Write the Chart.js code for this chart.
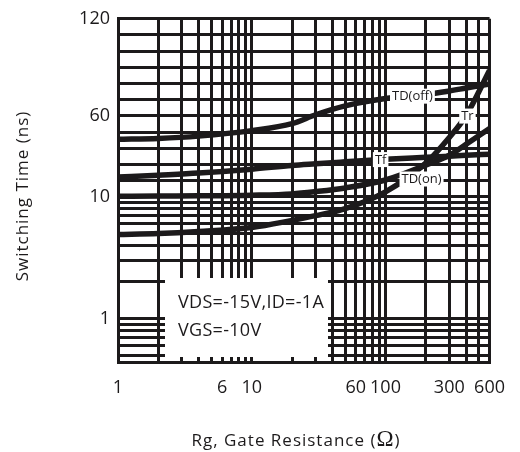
<!DOCTYPE html>
<html>
<head>
<meta charset="utf-8">
<script src="https://cdn.jsdelivr.net/npm/chart.js@4.4.1/dist/chart.umd.min.js"></script>
<style>
  html, body { margin: 0; padding: 0; background: #fff; }
  #wrap { width: 520px; height: 452px; }
</style>
</head>
<body>
<div id="wrap"><canvas id="chart" width="520" height="452"></canvas></div>
<script>
// Gate resistance (ohm) sample points
const rg = [1, 2, 4, 10, 20, 30, 50, 100, 200, 300, 400, 600];

// Switching times (ns)
const tdOff = [45.5, 46.1, 47.5, 50.9, 55.2, 60.7, 66.2, 70.7, 73.2, 75.4, 77.2, 79.7];
const tf    = [22.2, 23.4, 24.7, 27.1, 29.4, 30.4, 31.6, 33.2, 34.4, 35.1, 35.7, 36.3];
const tdOn  = [10.3, 10.5, 10.6, 11.0, 11.8, 13.2, 15.5, 20.4, 29.6, 35.7, 42.4, 52.2];
const tr    = [4.9, 5.0, 5.2, 5.6, 6.4, 7.0, 8.0, 13.1, 30.8, 46.7, 60.1, 88.2];

// curve names and where they sit (Rg, ns)
const curveNames = ['TD(off)', 'Tf', 'Tr', 'TD(on)'];
const nameRg  = [159, 92, 410, 186];
const nameVal = [72.2, 33.0, 59.9, 21.0];

// grid and tick labels
const xGrid = [1, 2, 3, 4, 5, 6, 7, 8, 9, 10, 20, 30, 40, 50, 60, 70, 80, 90,
               100, 200, 300, 400, 500, 600];
const xLabels = [1, 6, 10, 60, 100, 300, 600];
const yGrid = [0.5, 0.6, 0.7, 0.8, 0.9, 1, 2, 3, 4, 5, 6, 7, 8, 9, 10,
               20, 30, 40, 50, 60, 70, 80, 90, 100, 110, 120];
const yLabels = [1, 10, 60, 120];

const conditions = ['VDS=-15V,ID=-1A', 'VGS=-10V'];

const INK = '#1c1a1b';
const FONT = "'Open Sans', 'Liberation Sans', sans-serif";

// log below the split value, linear above it
class SplitLogScale extends Chart.LogarithmicScale {
  static id = 'splitlog';

  decimalFor(v) {
    const sv = this.options.splitValue;
    const at = this.options.splitAt;
    if (v <= sv) return at * Math.log(v / this.min) / Math.log(sv / this.min);
    return at + (1 - at) * (v - sv) / (this.max - sv);
  }

  getPixelForValue(v) {
    if (v === undefined || v === 0) v = this.min;
    if (v === null || isNaN(v)) return NaN;
    return this.getPixelForDecimal(this.decimalFor(v));
  }

  getValueForPixel(px) {
    const d = this.getDecimalForPixel(px);
    const sv = this.options.splitValue;
    const at = this.options.splitAt;
    if (d <= at) return this.min * Math.pow(sv / this.min, d / at);
    return sv + (d - at) / (1 - at) * (this.max - sv);
  }
}
Chart.register(SplitLogScale);

function series(vals) {
  return rg.map((r, i) => ({ x: r, y: vals[i] }));
}

function curve(label, vals) {
  return {
    label: label,
    data: series(vals),
    borderColor: INK,
    borderWidth: 5.5,
    pointRadius: 0,
    fill: false,
    cubicInterpolationMode: 'monotone'
  };
}

const notes = {
  id: 'notes',
  beforeDatasetsDraw(chart) {
    const { ctx, chartArea: a } = chart;
    ctx.save();
    // white panel with the test conditions
    ctx.fillStyle = '#fff';
    ctx.fillRect(a.left + 47, 278, 163, a.bottom - 5 - 278);
    ctx.fillStyle = INK;
    ctx.font = '18px ' + FONT;
    ctx.letterSpacing = '0.3px';
    ctx.textAlign = 'left';
    ctx.textBaseline = 'alphabetic';
    ctx.fillText(conditions[0], a.left + 60, 308);
    ctx.fillText(conditions[1], a.left + 60, 336);
    ctx.restore();
  },
  afterDatasetsDraw(chart) {
    const { ctx, scales: { x, y } } = chart;
    ctx.save();
    ctx.font = '13px ' + FONT;
    ctx.textAlign = 'center';
    ctx.textBaseline = 'middle';
    curveNames.forEach((name, i) => {
      const px = x.getPixelForValue(nameRg[i]);
      const py = y.getPixelForValue(nameVal[i]);
      const w = ctx.measureText(name).width + 4;
      ctx.fillStyle = '#fff';
      ctx.fillRect(px - w / 2, py - 7.5, w, 15);
      ctx.fillStyle = INK;
      ctx.fillText(name, px, py + 0.5);
    });
    ctx.restore();
  },
  afterDraw(chart) {
    const { ctx } = chart;
    ctx.save();
    ctx.fillStyle = INK;
    ctx.textBaseline = 'alphabetic';
    ctx.letterSpacing = '1px';

    // x title, with a larger serif omega
    const f1 = '17px ' + FONT;
    const f2 = "23px 'Liberation Serif', 'DejaVu Serif', serif";
    const p1 = 'Rg, Gate Resistance (';
    const p2 = '\u03A9';
    const p3 = ')';
    ctx.font = f1;
    const w1 = ctx.measureText(p1).width;
    const w3 = ctx.measureText(p3).width;
    ctx.font = f2;
    const w2 = ctx.measureText(p2).width;
    let tx = 296 - (w1 + w2 + w3) / 2;
    ctx.textAlign = 'left';
    ctx.font = f1;
    ctx.fillText(p1, tx, 446);
    ctx.font = f2;
    ctx.fillText(p2, tx + w1, 446);
    ctx.font = f1;
    ctx.fillText(p3, tx + w1 + w2, 446);

    // y title
    ctx.translate(23, 196);
    ctx.rotate(-Math.PI / 2);
    ctx.textAlign = 'center';
    ctx.textBaseline = 'middle';
    ctx.font = '17px ' + FONT;
    ctx.fillText('Switching Time (ns)', 0, 0);
    ctx.restore();
  }
};

new Chart(document.getElementById('chart'), {
  type: 'line',
  data: {
    datasets: [
      curve('TD(off)', tdOff),
      curve('Tf', tf),
      curve('TD(on)', tdOn),
      curve('Tr', tr)
    ]
  },
  options: {
    responsive: false,
    animation: false,
    layout: { padding: { top: 15, right: 19, left: 0, bottom: 0 } },
    plugins: {
      legend: { display: false },
      tooltip: { enabled: false }
    },
    scales: {
      x: {
        type: 'logarithmic',
        min: 1,
        max: 600,
        bounds: 'data',
        afterBuildTicks: s => { s.ticks = xGrid.map(v => ({ value: v })); },
        afterFit: s => { s.height = 90; },
        grid: { color: INK, lineWidth: 3, drawTicks: false },
        border: { color: INK, width: 3 },
        ticks: {
          autoSkip: false,
          maxRotation: 0,
          minRotation: 0,
          padding: 15,
          color: INK,
          font: { family: FONT, size: 18 },
          callback: v => xLabels.includes(v) ? String(v) : ''
        }
      },
      y: {
        type: 'splitlog',
        min: 0.44,
        max: 120,
        bounds: 'data',
        splitValue: 10,
        splitAt: 0.4813,
        afterBuildTicks: s => { s.ticks = yGrid.map(v => ({ value: v })); },
        afterFit: s => { s.width = 118; },
        grid: { color: INK, lineWidth: 3, drawTicks: false },
        border: { color: INK, width: 3 },
        ticks: {
          autoSkip: false,
          padding: 8,
          color: INK,
          font: { family: FONT, size: 18 },
          callback: v => yLabels.includes(v) ? String(v) : ''
        }
      }
    }
  },
  plugins: [notes]
});
</script>
</body>
</html>
